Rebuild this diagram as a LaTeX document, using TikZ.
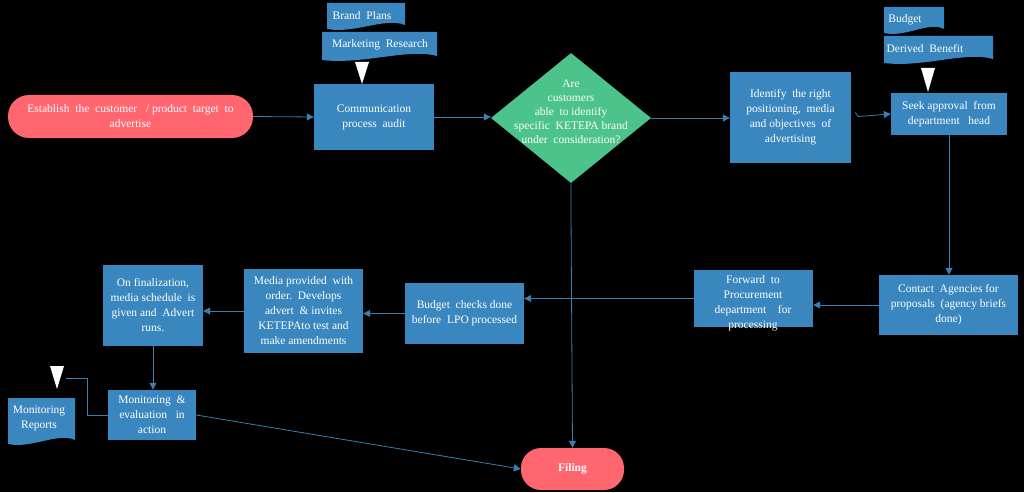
\documentclass[tikz,border=0pt]{standalone}
\usepackage{fontspec}
\setmainfont{Liberation Serif}
\usetikzlibrary{shapes.geometric,arrows.meta}
\definecolor{bx}{HTML}{3A87BF}
\definecolor{ln}{HTML}{3A7FB0}
\definecolor{pk}{HTML}{FF6670}
\definecolor{gr}{HTML}{4CC38A}
\newcommand\mydoc[4]{\fill[bx] (#1,#2) -- (#3,#2) -- (#3,#4-4) .. controls ({#1+0.75*(#3-#1)},#4-12) and ({#1+0.35*(#3-#1)},#4+5) .. (#1,#4) -- cycle;}
\newcommand\mytri[3]{\fill[white] (#1-7,#2) -- (#1+7,#2) -- (#1,#3) -- cycle;}
\begin{document}
\begin{tikzpicture}[x=1pt,y=-1pt,
  every node/.style={text=white,font=\fontsize{11.5}{15}\selectfont,align=center,inner sep=1pt},
  box/.style={fill=bx,minimum width=#1},
  arr/.style={draw=ln,line width=0.8pt,-{Triangle[length=7pt,width=7pt]}},
  ln/.style={draw=ln,line width=0.8pt}]
\fill[black] (0,0) rectangle (1024,492);
\useasboundingbox (0,0) rectangle (1024,492);
\node[fill=pk,rounded corners=21pt,minimum width=245,minimum height=43] (start) at (130.5,116.5) {Establish\ \ the\ \ customer\ \ \ /\ product\ \ target\ \ to\\advertise};
\node[box=120,minimum height=66] (comm) at (374,117) {Communication\\ process\ \ audit};
\mydoc{327}{3}{405}{29}
\node (bp) at (362,16) {Brand\ \ Plans};
\mydoc{322}{32}{437}{60}
\node (mr) at (380,45) {Marketing\ \ Research};
\mytri{362}{62}{84}
\node[diamond,fill=gr,minimum width=160,minimum height=130,inner sep=0pt,aspect=1.23] (dia) at (571,118) {};
\node[font=\fontsize{11.5}{14}\selectfont] at (571,112) {Are\\customers\\able\ \ to identify\\specific\ \ KETEPA brand\\under\ \ consideration?};
\node[box=121,minimum height=91] (ident) at (790.5,117.5) {Identify\ \ the right\\positioning,\ \ media\\and objectives\ \ of\\advertising};
\node[box=116,minimum height=42] (seek) at (949,114) {Seek approval\ \ from\\department\ \ \ head};
\mydoc{884}{7}{944}{33}
\node (bud) at (905,20) {Budget};
\mydoc{884}{36}{993}{63}
\node (db) at (925,49) {Derived\ \ Benefit};
\mytri{928}{68}{92}
\node[box=139,minimum height=60] (contact) at (948.5,305) {Contact\ \ Agencies for\\proposals\ \ (agency briefs\\done)};
\node[box=119,minimum height=57] (fwd) at (753.5,298.5) {};
\node at (753,303) {Forward\ \ to\\Procurement\\department\ \ \ \ for\\processing};
\node[box=119,minimum height=61] (bc) at (464.5,313.5) {Budget\ \ checks\ done\\before\ \ LPO processed};
\node[box=119,minimum height=84] (media) at (303.5,311) {Media provided\ \ with\\order.\ \ Develops\\advert\ \ \& invites\\KETEPAto test and\\make amendments};
\node[box=100,minimum height=81] (fin) at (153,305.5) {On finalization,\\media schedule\ \ is\\given and\ \ Advert\\runs.};
\node[box=88,minimum height=50] (mon) at (152,415) {Monitoring\ \ \&\\ evaluation\ \ \ in\\ action};
\mydoc{8}{398}{75}{444}
\node (mrep) at (39,418) {Monitoring\\Reports};
\mytri{57}{366}{389}
\coordinate (tri) at (66,378);
\node[fill=pk,rounded corners=20pt,minimum width=103,minimum height=42,font=\fontsize{11.5}{15}\selectfont\bfseries] (filing) at (572.5,469) {Filing};
\draw[arr] (start.east) -- (comm.west);
\draw[arr] (comm.east) -- (comm.east -| dia.west);
\draw[arr] (dia.east) -- (dia.east -| ident.west);
\draw[arr] (ident.east) ++(4,-5) -- ++(3,4) -- (seek.west);
\draw[arr] (seek.south) -- (contact.north -| seek.south);
\draw[arr] (contact.west) -- (contact.west -| fwd.east);
\draw[arr] (fwd.west) -- (fwd.west -| bc.east);
\draw[arr] (bc.west) -- (bc.west -| media.east);
\draw[arr] (media.west) -- (media.west -| fin.east);
\draw[arr] (fin.south) -- (mon.north -| fin.south);
\draw[arr] (mon.east) -- (filing.west);
\draw[arr] (dia.south) -- ++(0,30) -- (filing.north);
\draw[ln] (mon.west) -- ++(-20,0) |- (tri);
\end{tikzpicture}
\end{document}
